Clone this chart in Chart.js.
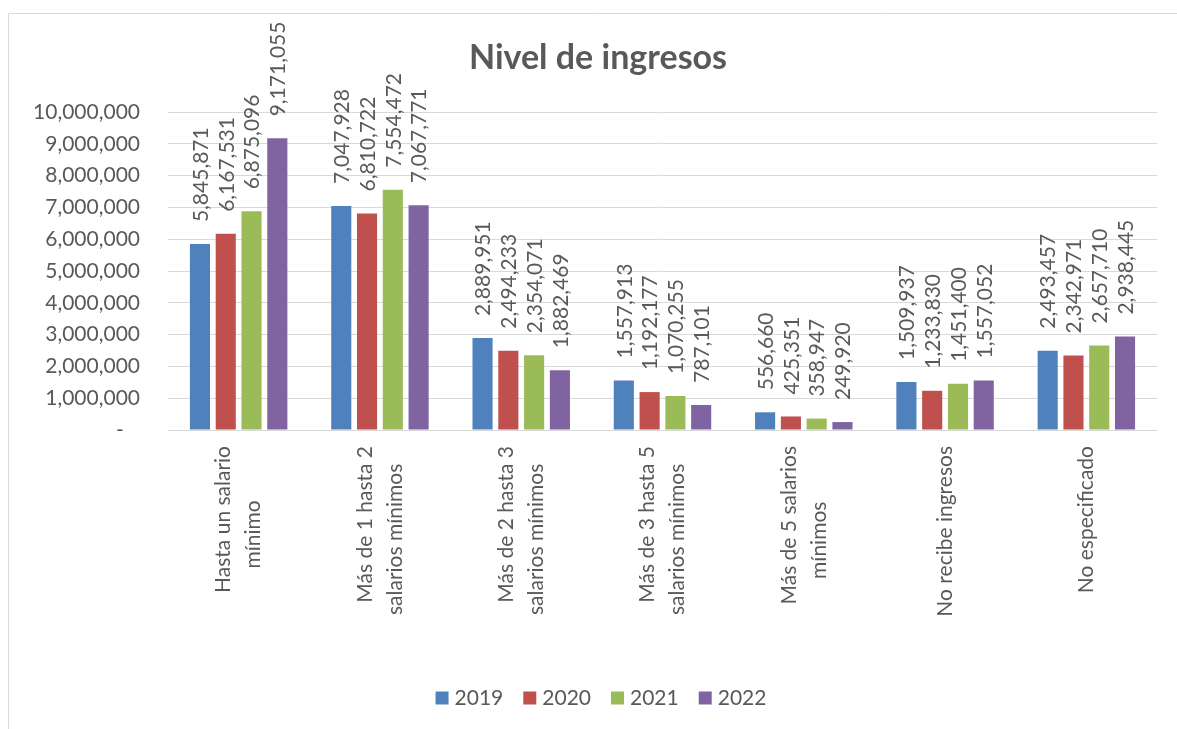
<!DOCTYPE html>
<html>
<head>
<meta charset="utf-8">
<script src="https://cdn.jsdelivr.net/npm/chart.js@4.4.1/dist/chart.umd.min.js"></script>
<style>
html,body{margin:0;padding:0;background:#fff;overflow:hidden;}
canvas{display:block;}
</style>
</head>
<body>
<canvas id="c" width="1177" height="729"></canvas>
<script>
const chartTitle = 'Nivel de ingresos';
const categories = [
  ['Hasta un salario', 'mínimo'],
  ['Más de 1 hasta 2', 'salarios mínimos'],
  ['Más de 2 hasta 3', 'salarios mínimos'],
  ['Más de 3 hasta 5', 'salarios mínimos'],
  ['Más de 5 salarios', 'mínimos'],
  ['No recibe ingresos'],
  ['No especificado']
];
const seriesNames = ['2019', '2020', '2021', '2022'];
const values2019 = [5845871, 7047928, 2889951, 1557913, 556660, 1509937, 2493457];
const values2020 = [6167531, 6810722, 2494233, 1192177, 425351, 1233830, 2342971];
const values2021 = [6875096, 7554472, 2354071, 1070255, 358947, 1451400, 2657710];
const values2022 = [9171055, 7067771, 1882469, 787101, 249920, 1557052, 2938445];
const seriesColors = ['#4F81BD', '#C0504D', '#9BBB59', '#8064A2'];
const yMax = 10000000;
const yStep = 1000000;

const FONT = 'Lato, "Open Sans", sans-serif';
const TEXT = '#595959';
const FS = 21;
const fmt = v => v.toLocaleString('en-US');

const allValues = [values2019, values2020, values2021, values2022];

const framePlugin = {
  id: 'frame',
  beforeDraw(chart) {
    const ctx = chart.ctx;
    ctx.save();
    ctx.fillStyle = '#fff';
    ctx.fillRect(0, 0, chart.width, chart.height);
    ctx.strokeStyle = '#d9d9d9';
    ctx.lineWidth = 1;
    ctx.beginPath();
    ctx.moveTo(8.5, chart.height + 5);
    ctx.lineTo(8.5, 13.5);
    ctx.lineTo(chart.width + 5, 13.5);
    ctx.stroke();
    // title
    ctx.fillStyle = TEXT;
    ctx.font = 'bold 34px ' + FONT;
    ctx.textAlign = 'center';
    ctx.textBaseline = 'middle';
    ctx.fillText(chartTitle, 598, 58);
    ctx.restore();
  }
};

const labelsPlugin = {
  id: 'barLabels',
  afterDatasetsDraw(chart) {
    const ctx = chart.ctx;
    ctx.save();
    ctx.fillStyle = TEXT;
    ctx.font = FS + 'px ' + FONT;
    chart.data.datasets.forEach((ds, di) => {
      const meta = chart.getDatasetMeta(di);
      meta.data.forEach((el, i) => {
        ctx.save();
        ctx.translate(el.x + 1, el.y - 22);
        ctx.rotate(-Math.PI / 2);
        ctx.textAlign = 'left';
        ctx.textBaseline = 'middle';
        ctx.fillText(fmt(ds.data[i]), 0, 0);
        ctx.restore();
      });
    });
    // category labels
    const xs = chart.scales.x;
    const top = chart.chartArea.bottom + 16;
    categories.forEach((lines, i) => {
      const cx = xs.getPixelForValue(i);
      const w1 = ctx.measureText(lines[0]).width;
      if (lines.length === 1) {
        ctx.save();
        ctx.translate(cx, top);
        ctx.rotate(-Math.PI / 2);
        ctx.textAlign = 'right';
        ctx.textBaseline = 'middle';
        ctx.fillText(lines[0], 0, 0);
        ctx.restore();
      } else {
        ctx.save();
        ctx.translate(cx - 15, top);
        ctx.rotate(-Math.PI / 2);
        ctx.textAlign = 'right';
        ctx.textBaseline = 'middle';
        ctx.fillText(lines[0], 0, 0);
        ctx.restore();
        ctx.save();
        ctx.translate(cx + 15, top + w1 / 2 + 15);
        ctx.rotate(-Math.PI / 2);
        ctx.textAlign = 'center';
        ctx.textBaseline = 'middle';
        ctx.fillText(lines[1], 0, 0);
        ctx.restore();
      }
    });
    // legend
    const items = chart.data.datasets.map(d => ({ label: d.label, color: d.backgroundColor }));
    const box = 13, gap = 6, sep = 20;
    const widths = items.map(it => box + gap + ctx.measureText(it.label).width);
    const total = widths.reduce((a, b) => a + b, 0) + sep * (items.length - 1);
    let x = 601 - total / 2;
    const ly = 698;
    items.forEach((it, k) => {
      ctx.fillStyle = it.color;
      ctx.fillRect(x, ly - box / 2, box, box);
      ctx.fillStyle = TEXT;
      ctx.textAlign = 'left';
      ctx.textBaseline = 'middle';
      ctx.fillText(it.label, x + box + gap, ly);
      x += widths[k] + sep;
    });
    ctx.restore();
  }
};

new Chart(document.getElementById('c'), {
  type: 'bar',
  data: {
    labels: categories,
    datasets: seriesNames.map((name, k) => ({
      label: name,
      data: allValues[k],
      backgroundColor: seriesColors[k],
      borderWidth: 0,
      categoryPercentage: 0.73,
      barPercentage: 0.78
    }))
  },
  options: {
    responsive: false,
    animation: false,
    devicePixelRatio: 1,
    layout: { padding: { top: 112, right: 20, left: 0, bottom: 0 } },
    plugins: {
      legend: { display: false },
      title: { display: false },
      tooltip: { enabled: false }
    },
    scales: {
      x: {
        grid: { display: false },
        border: { display: false },
        ticks: { display: false },
        afterFit(scale) { scale.height = 729 - 430; }
      },
      y: {
        min: 0,
        max: yMax,
        grid: { color: '#d9d9d9', lineWidth: 1, drawTicks: false },
        border: { display: false },
        ticks: {
          stepSize: yStep,
          padding: 28,
          color: TEXT,
          font: { family: FONT, size: FS },
          callback: v => v === 0 ? '-   ' : fmt(v)
        },
        afterFit(scale) { scale.width = 168; }
      }
    }
  },
  plugins: [framePlugin, labelsPlugin]
});
</script>
</body>
</html>
